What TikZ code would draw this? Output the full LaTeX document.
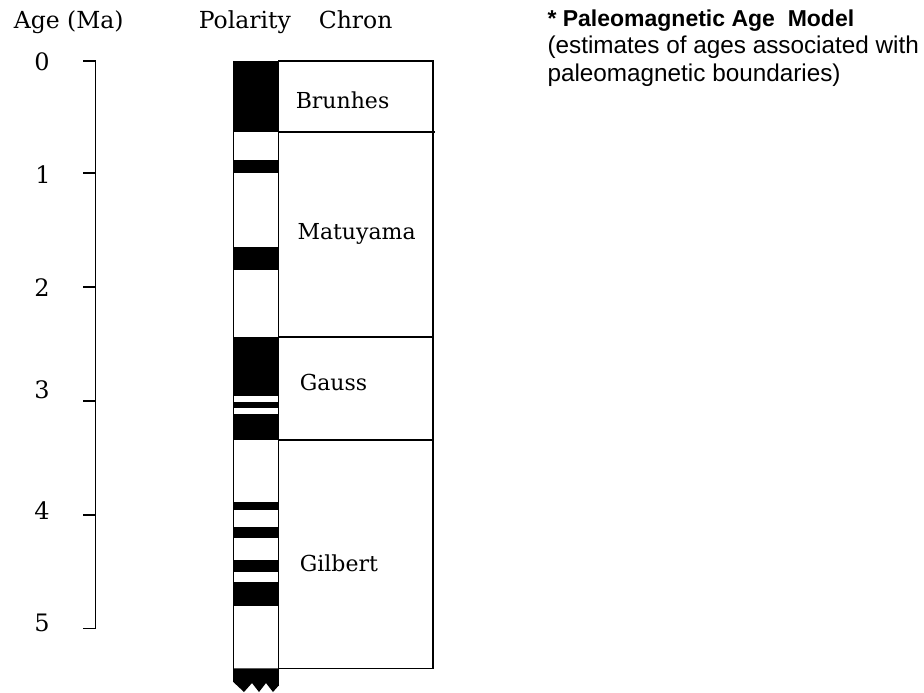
\documentclass[tikz,border=0pt]{standalone}
\usepackage{fontspec}
\setmainfont{DejaVu Serif}
\newfontfamily\helv{Liberation Sans}
\begin{document}
\begin{tikzpicture}[x=1pt,y=-1pt,line width=1.6pt,
  hdr/.style={inner sep=0pt,anchor=base west,font=\fontsize{23.5}{28}\selectfont},
  chron/.style={inner sep=0pt,anchor=base west,font=\fontsize{22}{26}\selectfont},
  agelbl/.style={inner sep=0pt,anchor=center,font=\fontsize{24}{28}\selectfont},
  note/.style={inner sep=0pt,anchor=base west,font=\helv\fontsize{24.3}{28}\selectfont},
  notebold/.style={inner sep=0pt,anchor=base west,font=\helv\bfseries\fontsize{23}{28}\selectfont},
  band/.style={fill=black,draw=none}]
\useasboundingbox (0,0) rectangle (924,693);
% headers
\node[hdr] (hage) at (13,29) {Age (Ma)};
\node[hdr] (hpol) at (198,28.3) {Polarity};
\node[hdr] (hchr) at (318,28.3) {Chron};
% note
\node[notebold] (n1) at (546.7,26.7) {* Paleomagnetic Age~ Model};
\node[note] (n2) at (546.7,53.5) {(estimates of ages associated with};
\node[note] (n3) at (546.7,81.3) {paleomagnetic boundaries)};
% age axis
\draw (83,61) -- (95.3,61) -- (95.3,628.5) -- (83,628.5);
\foreach \yy in {172.7,286.7,400.7,515} \draw (83,\yy) -- (95.3,\yy);
\node[agelbl] (a0) at (42,61.5) {0};
\node[agelbl] (a1) at (43,174.5) {1};
\node[agelbl] (a2) at (42,288) {2};
\node[agelbl] (a3) at (42,390) {3};
\node[agelbl] (a4) at (42,511) {4};
\node[agelbl] (a5) at (42,623) {5};
% polarity bands
\foreach \ta/\tb in {61/131.7,160/173.3,246.7/270,336.7/396,402.3/408.3,414/440,502.3/510,526.7/538.3,560/571.7,582.3/605.7}
  \fill[band] (233.3,\ta) rectangle (278.3,\tb);
\fill[band] (233.3,668.3) -- (233.3,682) -- (244,692) -- (252,683) -- (259,692) -- (266,683) -- (273,692) -- (278.3,686) -- (278.3,668.3) -- cycle;
\draw (233.3,61) -- (233.3,682);
\draw (278.3,61) -- (278.3,686);
% chron box
\draw (278.3,61) -- (432.7,61) -- (432.7,668.3) -- (278.3,668.3);
\draw (278.3,131.7) -- (435,131.7);
\draw (278.3,336.7) -- (432.7,336.7);
\draw (278.3,440) -- (432.7,440);
\node[chron] (cb) at (295,108) {Brunhes};
\node[chron] (cm) at (296.7,239) {Matuyama};
\node[chron] (cg) at (299,390) {Gauss};
\node[chron] (cgi) at (299,571.5) {Gilbert};
\end{tikzpicture}
\end{document}
